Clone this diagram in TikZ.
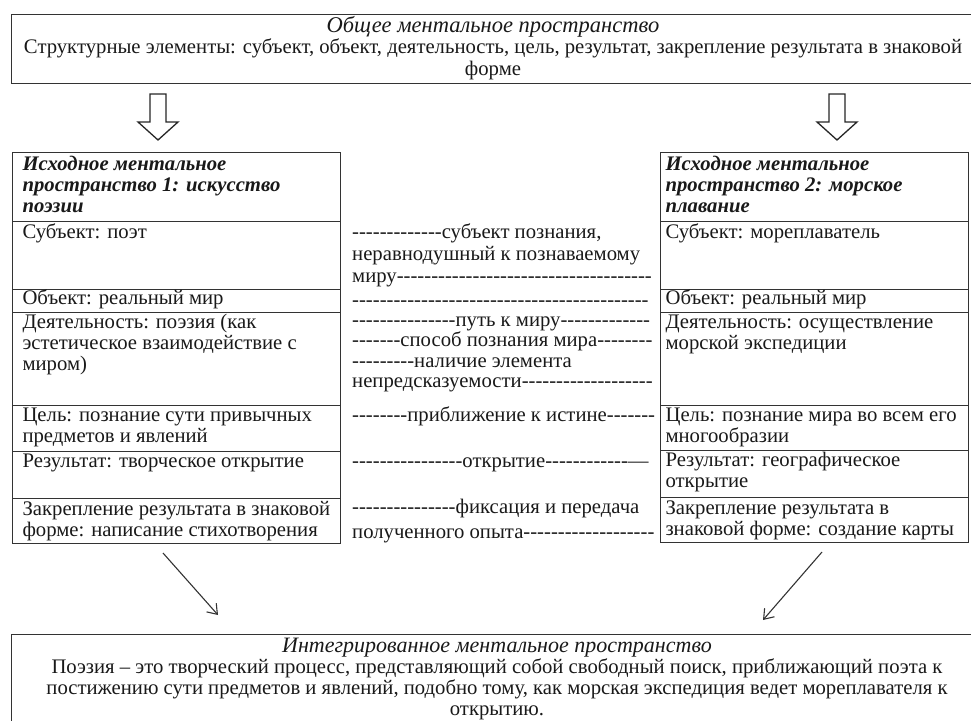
\documentclass[tikz,border=0pt]{standalone}
\usepackage{fontspec}
\setmainfont{Liberation Serif}
\usetikzlibrary{arrows.meta}
\newcount\dcnt
\newcommand\hy[1]{\dcnt=#1\relax\loop\ifnum\dcnt>0 -\kern0pt\advance\dcnt by -1\repeat}
\newcommand\cellbox[5]{\parbox[t][#1][t]{#2}{\raggedright\leftskip=#3\relax\rule{0pt}{#4}#5}}
\hyphenpenalty=10000
\exhyphenpenalty=10000
\tikzset{
  every node/.style={font=\fontsize{20.7}{21}\selectfont, text=black!90},
  framebox/.style={draw=black!80, line width=1.2pt, anchor=north west, inner sep=0pt},
  cellnode/.style={draw=black!80, line width=1.1pt, anchor=north west, inner sep=0pt},
  midtext/.style={anchor=base west, inner sep=0pt},
  hollowarrow/.style={draw=black!85, line width=1.3pt, fill=white, line join=miter},
  diagarrow/.style={draw=black!80, line width=1.1pt, -{Straight Barb[length=9pt,width=13pt,line width=1.1pt]}}
}
\begin{document}
\begin{tikzpicture}[x=1pt,y=-1pt]
\useasboundingbox (0,0) rectangle (971,720);
\begin{scope}
\clip (0,0) rectangle (971,720);
% top box
\node[framebox, minimum width=964pt, minimum height=69pt] (top) at (11,14) {};
\node[anchor=base, inner sep=0pt, font=\fontsize{20.7}{21.5}\selectfont] (toptext) at (493,32)
  {\parbox[t]{964pt}{\centering{\fontsize{22.5}{21}\selectfont\itshape Общее ментальное пространство}\\
   Структурные элементы: субъект, объект, деятельность, цель, результат, закрепление результата в знаковой\\
   форме}};
% hollow arrows
\coordinate (ha1) at (158,94);
\coordinate (ha2) at (837,94);
\draw[hollowarrow] (ha1) ++(-8,0) -- ++(16,0) -- ++(0,28) -- ++(12,0) -- ++(-20,18) -- ++(-20,-18) -- ++(12,0) -- cycle;
\draw[hollowarrow] (ha2) ++(-8,0) -- ++(16,0) -- ++(0,28) -- ++(12,0) -- ++(-20,18) -- ++(-20,-18) -- ++(12,0) -- cycle;
% left table
\node[cellnode] (l0) at (12,152) {\cellbox{69pt}{328pt}{10pt}{18pt}{\bfseries\itshape Исходное ментальное\\пространство 1: искусство\\поэзии}};
\node[cellnode] (l1) at (12,221) {\cellbox{68pt}{328pt}{10pt}{17pt}{Субъект: поэт}};
\node[cellnode] (l2) at (12,289) {\cellbox{23pt}{328pt}{10pt}{14pt}{Объект: реальный мир}};
\node[cellnode] (l3) at (12,312) {\cellbox{93pt}{328pt}{10pt}{16pt}{Деятельность: поэзия (как\\эстетическое взаимодействие с\\миром)}};
\node[cellnode] (l4) at (12,405) {\cellbox{46pt}{328pt}{10pt}{16pt}{Цель: познание сути привычных\\предметов и явлений}};
\node[cellnode] (l5) at (12,451) {\cellbox{47pt}{328pt}{10pt}{16pt}{Результат: творческое открытие}};
\node[cellnode] (l6) at (12,498) {\cellbox{45pt}{328pt}{10pt}{17pt}{Закрепление результата в знаковой\\форме: написание стихотворения}};
% right table
\node[cellnode] (r0) at (660,152) {\cellbox{69pt}{308pt}{5pt}{18pt}{\bfseries\itshape Исходное ментальное\\пространство 2: морское\\плавание}};
\node[cellnode] (r1) at (660,221) {\cellbox{68pt}{308pt}{5pt}{17pt}{Субъект: мореплаватель}};
\node[cellnode] (r2) at (660,289) {\cellbox{23pt}{308pt}{5pt}{14pt}{Объект: реальный мир}};
\node[cellnode] (r3) at (660,312) {\cellbox{93pt}{308pt}{5pt}{16pt}{Деятельность: осуществление\\морской экспедиции}};
\node[cellnode] (r4) at (660,405) {\cellbox{45pt}{308pt}{5pt}{16pt}{Цель: познание мира во всем его\\многообразии}};
\node[cellnode] (r5) at (660,450) {\cellbox{47pt}{308pt}{5pt}{16pt}{Результат: географическое\\открытие}};
\node[cellnode] (r6) at (660,497) {\cellbox{45pt}{308pt}{5pt}{17pt}{Закрепление результата в\\знаковой форме: создание карты}};
% middle column
\node[midtext, font=\fontsize{20.7}{22}\selectfont] (m1) at (352,238) {\parbox[t]{330pt}{\raggedright\lineskiplimit=-50pt\hy{13}субъект познания,\\неравнодушный к познаваемому\\миру\hy{37}}};
\node[midtext] (m2) at (352,306) {\hy{43}};
\node[midtext, font=\fontsize{20.7}{20.5}\selectfont] (m3) at (352,326) {\parbox[t]{330pt}{\raggedright\lineskiplimit=-50pt\hy{15}путь к миру\hy{13}\\\hy{7}способ познания мира\hy{8}\\\hy{9}наличие элемента\\непредсказуемости\hy{19}}};
\node[midtext] (m6) at (352,421) {\hy{8}приближение к истине\hy{7}};
\node[midtext] (m7) at (352,467) {\hy{16}открытие\hy{12}—};
\node[midtext, font=\fontsize{20.7}{25}\selectfont] (m8) at (352,513) {\parbox[t]{330pt}{\raggedright\lineskiplimit=-50pt\hy{15}фиксация и передача\\полученного опыта\hy{19}}};
% diagonal arrows
\coordinate (la1) at (163,553);
\coordinate (la2) at (218,615);
\coordinate (ra1) at (822,552);
\coordinate (ra2) at (763,620);
\draw[diagarrow] (la1) -- (la2);
\draw[diagarrow] (ra1) -- (ra2);
% bottom box
\node[framebox, minimum width=975pt, minimum height=100pt] (bot) at (11,634) {};
\node[anchor=base, inner sep=0pt] (bottext) at (497,652)
  {\parbox[t]{965pt}{\centering{\fontsize{22}{21}\selectfont\itshape Интегрированное ментальное пространство}\\
   Поэзия – это творческий процесс, представляющий собой свободный поиск, приближающий поэта к\\
   постижению сути предметов и явлений, подобно тому, как морская экспедиция ведет мореплавателя к\\
   открытию.}};
\end{scope}
\end{tikzpicture}
\end{document}
